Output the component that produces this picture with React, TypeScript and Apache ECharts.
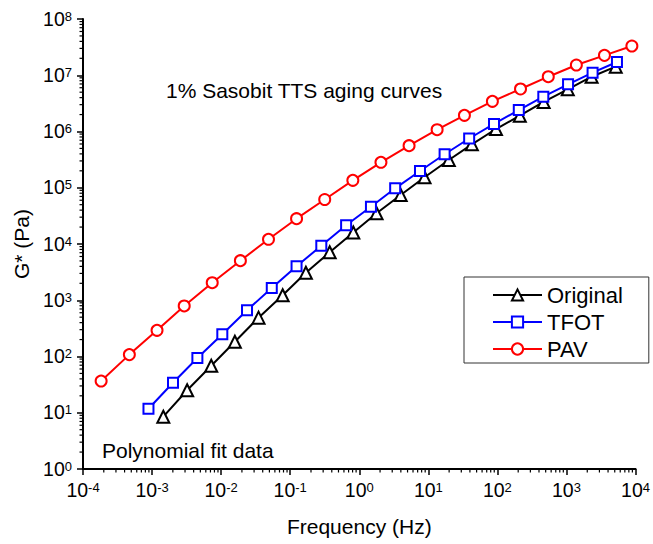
import React, { useEffect, useRef } from "react";
import * as echarts from "echarts";

const FONT = "'Liberation Sans', Arial, Helvetica, sans-serif";

const origFreq = [1.455e-3, 3.22e-3, 7.19e-3, 0.0158, 0.0348, 0.0778, 0.1686, 0.373, 0.82, 1.78, 3.98, 8.81, 19.8, 42.7, 95.3, 211, 467, 1045, 2312, 5164];
const origG = [8.51, 25.1, 68.6, 183, 490, 1225, 3090, 7120, 16010, 35140, 74300, 153400, 311400, 592000, 1.107e6, 1.91e6, 3.35e6, 5.62e6, 9.42e6, 1.42e7];
const tfotFreq = [8.87e-4, 2.01e-3, 4.53e-3, 0.0104, 0.0237, 0.0541, 0.1236, 0.282, 0.645, 1.476, 3.31, 7.57, 17.2, 39.0, 89.3, 204, 462, 1054, 2388, 5383];
const tfotG = [11.8, 34.2, 94, 248, 663, 1652, 4015, 9330, 21500, 46050, 97700, 198600, 394500, 751000, 1.36e6, 2.41e6, 4.16e6, 6.9e6, 1.11e7, 1.72e7];
const pavFreq = [1.83e-4, 4.69e-4, 1.18e-3, 2.92e-3, 7.43e-3, 0.019, 0.0485, 0.1236, 0.316, 0.807, 2.06, 5.26, 13.4, 33.3, 84.6, 216, 545, 1390, 3548, 8850];
const pavG = [36.6, 108, 292, 791, 2051, 5050, 12130, 28180, 61800, 135600, 283400, 559500, 1.076e6, 1.94e6, 3.44e6, 5.7e6, 9.42e6, 1.52e7, 2.26e7, 3.31e7];

const seriesNames = ["Original", "TFOT", "PAV"];
const titleText = "1% Sasobit TTS aging curves";
const noteText = "Polynomial fit data";
const xName = "Frequency (Hz)";
const yName = "G* (Pa)";

// axis decades (major ticks) and minor-tick multipliers
const xDecades = [1e-4, 1e-3, 1e-2, 1e-1, 1, 10, 100, 1000];
const yDecades = [1, 10, 100, 1e3, 1e4, 1e5, 1e6, 1e7];
const minorMultipliers = [2, 3, 4, 5, 6, 7, 8, 9];

const X_MIN = 1e-4, X_MAX = 1e4, Y_MIN = 1, Y_MAX = 1e8;

const zip = (a: number[], b: number[]) => a.map((v, i) => [v, b[i]]);

const supLabel = (v: number) => {
  const e = Math.round(Math.log10(v));
  return `{b|10}{s|${e}}`;
};

const rich = {
  b: { fontSize: 19.5, fontFamily: FONT, color: "#000", lineHeight: 19, verticalAlign: "bottom" },
  s: { fontSize: 13, fontFamily: FONT, color: "#000", lineHeight: 13, padding: [0, 0, 9, 0], verticalAlign: "top" },
};

const axisCommon = {
  type: "log",
  logBase: 10,
  axisLine: { show: true, lineStyle: { color: "#000", width: 2 } },
  axisTick: { show: true, inside: false, length: 6, lineStyle: { color: "#000", width: 1.5 } },
  minorTick: { show: false },
  splitLine: { show: false },
  minorSplitLine: { show: false },
  nameTextStyle: { fontSize: 21, fontFamily: FONT, color: "#000" },
};

const xMinor: number[][] = [];
xDecades.forEach((d) => minorMultipliers.forEach((m) => xMinor.push([d * m, Y_MIN])));
const yMinor: number[][] = [];
yDecades.forEach((d) => minorMultipliers.forEach((m) => yMinor.push([X_MIN, d * m])));

export default function App() {
  const ref = useRef<HTMLDivElement>(null);
  useEffect(() => {
    if (!ref.current) return;
    const chart = echarts.init(ref.current, undefined, { renderer: "svg" });
    chart.setOption({
      animation: false,
      backgroundColor: "#fff",
      grid: { left: 83, right: 13, top: 19, bottom: 75, containLabel: false },
      xAxis: {
        ...axisCommon,
        min: X_MIN,
        max: X_MAX,
        name: xName,
        nameLocation: "middle",
        nameGap: 47,
        axisLabel: { formatter: supLabel, rich, margin: 12, color: "#000" },
      },
      yAxis: {
        ...axisCommon,
        min: Y_MIN,
        max: Y_MAX,
        name: yName,
        nameLocation: "middle",
        nameGap: 50,
        axisLabel: { formatter: supLabel, rich, margin: 11, color: "#000" },
      },
      legend: {
        orient: "vertical",
        left: 464,
        top: 277,
        padding: [7, 26, 3, 28],
        itemWidth: 49,
        itemHeight: 14,
        itemGap: 5,
        borderColor: "#333",
        borderWidth: 1,
        textStyle: { fontSize: 22, fontFamily: FONT, color: "#000", lineHeight: 22 },
        data: seriesNames,
      },
      graphic: [
        { type: "text", left: 166, top: 80, style: { text: titleText, fontSize: 21, fontFamily: FONT, fill: "#000" } },
        { type: "text", left: 102, top: 440, style: { text: noteText, fontSize: 21, fontFamily: FONT, fill: "#000" } },
      ],
      series: [
        {
          type: "custom", name: "xMinor", data: xMinor, clip: false, silent: true, z: 1,
          renderItem: (params: any, api: any) => {
            const p = api.coord([api.value(0), api.value(1)]);
            return { type: "line", shape: { x1: p[0], y1: p[1], x2: p[0], y2: p[1] + 3.5 }, style: { stroke: "#000", lineWidth: 1.2 } };
          },
        },
        {
          type: "custom", name: "yMinor", data: yMinor, clip: false, silent: true, z: 1,
          renderItem: (params: any, api: any) => {
            const p = api.coord([api.value(0), api.value(1)]);
            return { type: "line", shape: { x1: p[0] - 3.5, y1: p[1], x2: p[0], y2: p[1] }, style: { stroke: "#000", lineWidth: 1.2 } };
          },
        },
        {
          name: seriesNames[0], type: "line", data: zip(origFreq, origG),
          symbol: "emptyTriangle", symbolSize: 12, color: "#000",
          lineStyle: { color: "#000", width: 2 }, itemStyle: { color: "#000", borderWidth: 1.2 },
        },
        {
          name: seriesNames[1], type: "line", data: zip(tfotFreq, tfotG),
          symbol: "emptyRect", symbolSize: 10, color: "#0000ff",
          lineStyle: { color: "#0000ff", width: 2 }, itemStyle: { color: "#0000ff", borderWidth: 1.2 },
        },
        {
          name: seriesNames[2], type: "line", data: zip(pavFreq, pavG),
          symbol: "emptyCircle", symbolSize: 11, color: "#ff0000",
          lineStyle: { color: "#ff0000", width: 2 }, itemStyle: { color: "#ff0000", borderWidth: 1.2 },
        },
      ],
    });
    return () => chart.dispose();
  }, []);
  return <div ref={ref} style={{ position: "fixed", left: 0, top: 0, width: 653, height: 544, background: "#fff" }} />;
}
